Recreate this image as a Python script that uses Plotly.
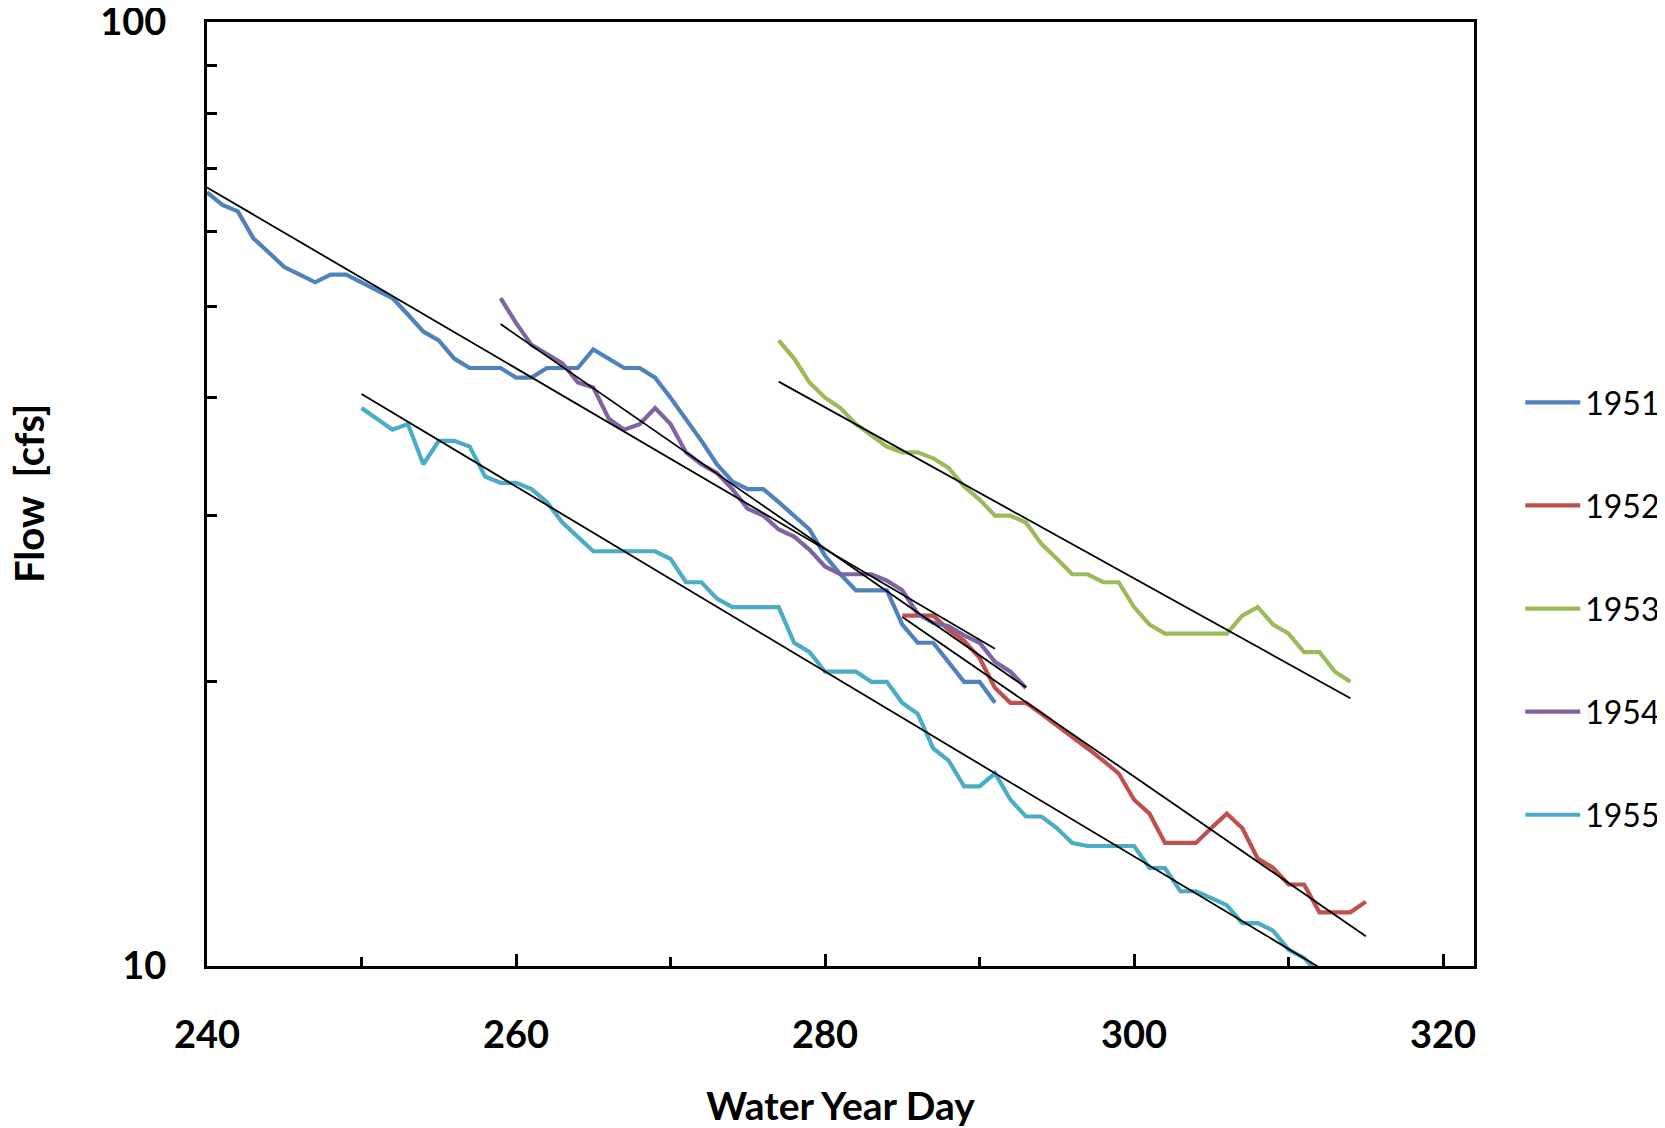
import numpy as np
import plotly.graph_objects as go

# ---- data ----
days_1951 = list(range(240, 292))
flow_1951 = [66, 64, 63, 59, 57, 55, 54, 53, 54, 54,
             53, 52, 51, 49, 47, 46, 44, 43, 43, 43,
             42, 42, 43, 43, 43, 45, 44, 43, 43, 42,
             40, 38, 36, 34, 32.6, 32, 32, 31, 30, 29,
             27.2, 26, 25, 25, 25, 23, 22, 22, 21, 20,
             20, 19]

days_1952 = list(range(285, 316))
flow_1952 = [23.5, 23.5, 23.5, 22.7, 22.1, 21.2, 19.7, 19.0, 19.0, 18.5,
             18, 17.5, 17, 16.5, 16, 15, 14.5, 13.5, 13.5, 13.5,
             14, 14.5, 14, 13, 12.7, 12.2, 12.2, 11.4, 11.4, 11.4,
             11.7]

days_1953 = list(range(277, 315))
flow_1953 = [46, 44, 41.5, 40, 39, 37.5, 36.5, 35.5, 35, 35,
             34.5, 33.7, 32.2, 31.2, 30, 30, 29.5, 28, 27, 26,
             26, 25.5, 25.5, 24, 23, 22.5, 22.5, 22.5, 22.5, 22.5,
             23.5, 24, 23, 22.5, 21.5, 21.5, 20.5, 20]

days_1954 = list(range(259, 294))
flow_1954 = [51, 48, 45.5, 44.5, 43.5, 41.5, 41, 38, 37, 37.5,
             39, 37.5, 35, 34, 33.3, 32, 30.5, 30, 29, 28.5,
             27.6, 26.5, 26, 26, 26, 25.6, 25, 23.6, 23.1, 22.9,
             22.4, 22, 21, 20.5, 19.7]

days_1955 = list(range(250, 313))
flow_1955 = [39, 38, 37, 37.5, 34, 36, 36, 35.5, 33, 32.5,
             32.5, 32, 31, 29.5, 28.5, 27.5, 27.5, 27.5, 27.5, 27.5,
             27, 25.5, 25.5, 24.5, 24, 24, 24, 24, 22, 21.5,
             20.5, 20.5, 20.5, 20, 20, 19, 18.5, 17, 16.5, 15.5,
             15.5, 16, 15, 14.4, 14.4, 14, 13.5, 13.4, 13.4, 13.4,
             13.4, 12.7, 12.7, 12, 12, 11.8, 11.6, 11.1, 11.1, 10.9,
             10.4, 10.2, 9.8]

years = ["1951", "1952", "1953", "1954", "1955"]
colors = ["#4F81BD", "#C0504D", "#9BBB59", "#8064A2", "#4BACC6"]
series = [(days_1951, flow_1951), (days_1952, flow_1952), (days_1953, flow_1953),
          (days_1954, flow_1954), (days_1955, flow_1955)]

x_ticks = [240, 260, 280, 300, 320]
y_ticks = [10, 100]
y_minor = [20, 30, 40, 50, 60, 70, 80, 90]

FONT = "Lato"

fig = go.Figure()

for name, col, (xd, yd) in zip(years, colors, series):
    fig.add_trace(go.Scatter(
        x=xd, y=yd, mode="lines", name=name, legendgroup=name,
        line=dict(color=col, width=4.2),
    ))

# exponential trendlines (least squares on ln(flow)), drawn over each series' range
for name, (xd, yd) in zip(years, series):
    xa = np.array(xd, dtype=float)
    b, a = np.polyfit(xa, np.log(np.array(yd, dtype=float)), 1)
    xt = np.array([xa.min(), xa.max()])
    fig.add_trace(go.Scatter(
        x=xt, y=np.exp(a + b * xt), mode="lines", showlegend=False,
        line=dict(color="black", width=1.8), hoverinfo="skip",
    ))

fig.update_layout(
    width=1680, height=1120, autosize=False,
    margin=dict(l=199, r=214, t=14, b=162),
    paper_bgcolor="white", plot_bgcolor="white",
    font=dict(family=FONT, color="black"),
    showlegend=True,
    legend=dict(
        x=1.0365, y=0.626, xanchor="left", yanchor="top",
        font=dict(family=FONT, size=32, color="black"),
        tracegroupgap=58.5, itemwidth=55, bgcolor="rgba(0,0,0,0)",
    ),
    annotations=[dict(
        text="Flow\u00a0 [cfs]", textangle=-90, showarrow=False,
        xref="paper", yref="paper", x=0, y=0.5, xanchor="center", yanchor="middle",
        xshift=-178, font=dict(family=FONT, size=40, weight="bold", color="black"),
    )],
)

fig.update_xaxes(
    range=[240, 322], tickvals=x_ticks, ticktext=[str(v) for v in x_ticks],
    ticks="inside", ticklen=12, tickwidth=3, tickcolor="black",
    minor=dict(dtick=10, tick0=240, ticks="inside", ticklen=9, tickwidth=3, tickcolor="black"),
    showline=True, linewidth=3, linecolor="black", mirror=True,
    showgrid=False, zeroline=False, automargin=False,
    tickfont=dict(family=FONT, size=38, weight="bold", color="black"),
    ticklabelstandoff=33, ticklabeloverflow="allow",
    title=dict(text="Water Year Day", font=dict(family=FONT, size=39, weight="bold", color="black"),
               standoff=49),
)

fig.update_yaxes(
    type="log", range=[1, 2], tickvals=y_ticks, ticktext=[str(v) for v in y_ticks],
    ticks="inside", ticklen=10, tickwidth=3, tickcolor="black",
    minor=dict(tickvals=y_minor, ticks="inside", ticklen=10, tickwidth=3, tickcolor="black",
               showgrid=False),
    showline=True, linewidth=3, linecolor="black", mirror=True,
    showgrid=False, zeroline=False, automargin=False,
    tickfont=dict(family=FONT, size=38, weight="bold", color="black"),
    ticklabelstandoff=30, ticklabeloverflow="allow",
)

fig.write_html("out.html")
